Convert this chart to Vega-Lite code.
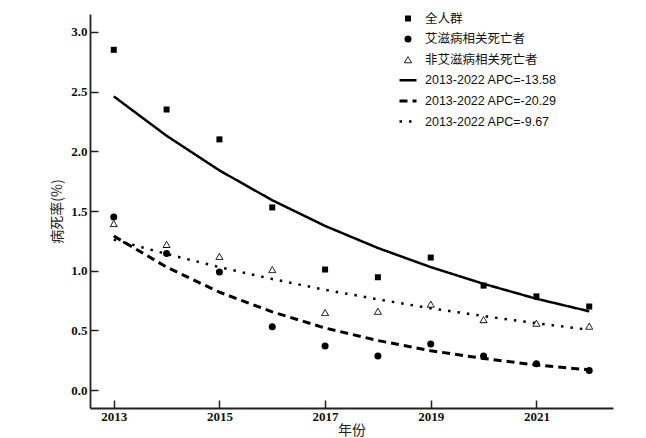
{
  "$schema": "https://vega.github.io/schema/vega-lite/v6.json",
  "width": 523,
  "height": 394,
  "autosize": {"type": "none"},
  "padding": {"left": 90, "top": 14, "right": 33, "bottom": 30},
  "background": "white",
  "config": {
    "view": {"stroke": null},
    "axis": {
      "grid": false,
      "domainColor": "#222",
      "domainWidth": 1.8,
      "tickColor": "#222",
      "tickWidth": 1.5,
      "tickSize": -8,
      "labelFont": "Liberation Serif",
      "labelFontWeight": "bold",
      "labelFontSize": 13,
      "labelColor": "#111",
      "titleFont": "Noto Sans CJK SC",
      "titleFontWeight": "normal",
      "titleFontSize": 14,
      "titleColor": "#222"
    },
    "legend": {
      "title": null,
      "orient": "none",
      "legendX": 308,
      "legendY": -4,
      "padding": 0,
      "labelOffset": 7,
      "rowPadding": 3.6,
      "clipHeight": 17,
      "labelFont": "Liberation Sans, Noto Sans CJK SC",
      "labelFontSize": 12.5,
      "labelColor": "#111",
      "symbolStrokeColor": "black"
    }
  },
  "datasets": {
    "pts": [
      {"year": 2013, "rate": 2.85, "series": "全人群"},
      {"year": 2014, "rate": 2.35, "series": "全人群"},
      {"year": 2015, "rate": 2.10, "series": "全人群"},
      {"year": 2016, "rate": 1.53, "series": "全人群"},
      {"year": 2017, "rate": 1.01, "series": "全人群"},
      {"year": 2018, "rate": 0.945, "series": "全人群"},
      {"year": 2019, "rate": 1.11, "series": "全人群"},
      {"year": 2020, "rate": 0.875, "series": "全人群"},
      {"year": 2021, "rate": 0.785, "series": "全人群"},
      {"year": 2022, "rate": 0.70, "series": "全人群"},
      {"year": 2013, "rate": 1.45, "series": "艾滋病相关死亡者"},
      {"year": 2014, "rate": 1.145, "series": "艾滋病相关死亡者"},
      {"year": 2015, "rate": 0.99, "series": "艾滋病相关死亡者"},
      {"year": 2016, "rate": 0.53, "series": "艾滋病相关死亡者"},
      {"year": 2017, "rate": 0.37, "series": "艾滋病相关死亡者"},
      {"year": 2018, "rate": 0.285, "series": "艾滋病相关死亡者"},
      {"year": 2019, "rate": 0.385, "series": "艾滋病相关死亡者"},
      {"year": 2020, "rate": 0.285, "series": "艾滋病相关死亡者"},
      {"year": 2021, "rate": 0.22, "series": "艾滋病相关死亡者"},
      {"year": 2022, "rate": 0.165, "series": "艾滋病相关死亡者"},
      {"year": 2013, "rate": 1.395, "series": "非艾滋病相关死亡者"},
      {"year": 2014, "rate": 1.22, "series": "非艾滋病相关死亡者"},
      {"year": 2015, "rate": 1.12, "series": "非艾滋病相关死亡者"},
      {"year": 2016, "rate": 1.01, "series": "非艾滋病相关死亡者"},
      {"year": 2017, "rate": 0.65, "series": "非艾滋病相关死亡者"},
      {"year": 2018, "rate": 0.66, "series": "非艾滋病相关死亡者"},
      {"year": 2019, "rate": 0.72, "series": "非艾滋病相关死亡者"},
      {"year": 2020, "rate": 0.59, "series": "非艾滋病相关死亡者"},
      {"year": 2021, "rate": 0.56, "series": "非艾滋病相关死亡者"},
      {"year": 2022, "rate": 0.535, "series": "非艾滋病相关死亡者"}
    ],
    "fit": [
      {"year": 2013, "rate": 2.46, "series": "2013-2022 APC=-13.58"},
      {"year": 2014, "rate": 2.13, "series": "2013-2022 APC=-13.58"},
      {"year": 2015, "rate": 1.84, "series": "2013-2022 APC=-13.58"},
      {"year": 2016, "rate": 1.59, "series": "2013-2022 APC=-13.58"},
      {"year": 2017, "rate": 1.375, "series": "2013-2022 APC=-13.58"},
      {"year": 2018, "rate": 1.19, "series": "2013-2022 APC=-13.58"},
      {"year": 2019, "rate": 1.03, "series": "2013-2022 APC=-13.58"},
      {"year": 2020, "rate": 0.89, "series": "2013-2022 APC=-13.58"},
      {"year": 2021, "rate": 0.765, "series": "2013-2022 APC=-13.58"},
      {"year": 2022, "rate": 0.66, "series": "2013-2022 APC=-13.58"},
      {"year": 2013, "rate": 1.29, "series": "2013-2022 APC=-20.29"},
      {"year": 2014, "rate": 1.03, "series": "2013-2022 APC=-20.29"},
      {"year": 2015, "rate": 0.82, "series": "2013-2022 APC=-20.29"},
      {"year": 2016, "rate": 0.655, "series": "2013-2022 APC=-20.29"},
      {"year": 2017, "rate": 0.52, "series": "2013-2022 APC=-20.29"},
      {"year": 2018, "rate": 0.415, "series": "2013-2022 APC=-20.29"},
      {"year": 2019, "rate": 0.33, "series": "2013-2022 APC=-20.29"},
      {"year": 2020, "rate": 0.265, "series": "2013-2022 APC=-20.29"},
      {"year": 2021, "rate": 0.21, "series": "2013-2022 APC=-20.29"},
      {"year": 2022, "rate": 0.17, "series": "2013-2022 APC=-20.29"},
      {"year": 2013, "rate": 1.26, "series": "2013-2022 APC=-9.67"},
      {"year": 2014, "rate": 1.14, "series": "2013-2022 APC=-9.67"},
      {"year": 2015, "rate": 1.03, "series": "2013-2022 APC=-9.67"},
      {"year": 2016, "rate": 0.93, "series": "2013-2022 APC=-9.67"},
      {"year": 2017, "rate": 0.84, "series": "2013-2022 APC=-9.67"},
      {"year": 2018, "rate": 0.76, "series": "2013-2022 APC=-9.67"},
      {"year": 2019, "rate": 0.685, "series": "2013-2022 APC=-9.67"},
      {"year": 2020, "rate": 0.62, "series": "2013-2022 APC=-9.67"},
      {"year": 2021, "rate": 0.56, "series": "2013-2022 APC=-9.67"},
      {"year": 2022, "rate": 0.505, "series": "2013-2022 APC=-9.67"}
    ]
  },
  "encoding": {
    "x": {
      "field": "year", "type": "quantitative",
      "scale": {"domain": [2012.55, 2022.45], "nice": false, "zero": false},
      "axis": {"values": [2013, 2015, 2017, 2019, 2021], "format": "d", "title": "年份", "labelPadding": 10, "titlePadding": 0}
    },
    "y": {
      "field": "rate", "type": "quantitative",
      "scale": {"domain": [-0.15, 3.15], "nice": false, "zero": false},
      "axis": {"values": [0, 0.5, 1, 1.5, 2, 2.5, 3], "format": ".1f", "title": "病死率(%)", "labelPadding": 11, "titlePadding": 6}
    },
    "strokeDash": {
      "field": "series", "type": "nominal",
      "scale": {
        "domain": ["全人群", "艾滋病相关死亡者", "非艾滋病相关死亡者", "2013-2022 APC=-13.58", "2013-2022 APC=-20.29", "2013-2022 APC=-9.67"],
        "range": [[1, 0], [1, 0], [1, 0], [1, 0], [8, 5], [2.5, 7]]
      },
      "legend": {
        "encode": {
          "symbols": {"update": {
            "stroke": {"value": "black"},
            "strokeWidth": {"scale": "strokeWidth", "field": "value"},
            "strokeDash": {"scale": "strokeDash", "field": "value"},
            "opacity": {"value": 1},
            "strokeOpacity": {"value": 1}
          }}
        }
      }
    },
    "strokeWidth": {
      "field": "series", "type": "nominal",
      "scale": {
        "type": "ordinal",
        "domain": ["全人群", "艾滋病相关死亡者", "非艾滋病相关死亡者", "2013-2022 APC=-13.58", "2013-2022 APC=-20.29", "2013-2022 APC=-9.67"],
        "range": [0, 0, 1, 2.5, 3, 2.5]
      },
      "legend": {
        "encode": {
          "symbols": {"update": {
            "stroke": {"value": "black"},
            "strokeWidth": {"scale": "strokeWidth", "field": "value"},
            "strokeDash": {"scale": "strokeDash", "field": "value"},
            "opacity": {"value": 1},
            "strokeOpacity": {"value": 1}
          }}
        }
      }
    }
  },
  "layer": [
    {
      "data": {"name": "fit"},
      "mark": {"type": "line", "color": "black"}
    },
    {
      "data": {"name": "pts"},
      "mark": {"type": "point", "stroke": "black", "opacity": 1},
      "encoding": {
        "shape": {
          "field": "series", "type": "nominal",
          "scale": {
            "domain": ["全人群", "艾滋病相关死亡者", "非艾滋病相关死亡者", "2013-2022 APC=-13.58", "2013-2022 APC=-20.29", "2013-2022 APC=-9.67"],
            "range": ["square", "circle", "triangle-up", "M-1,0H1", "M-1,0H1", "M-1,0H1"]
          },
          "legend": {
            "encode": {
              "symbols": {"update": {
                "stroke": {"value": "black"},
                "strokeWidth": {"scale": "strokeWidth", "field": "value"},
                "strokeDash": {"scale": "strokeDash", "field": "value"},
                "opacity": {"value": 1},
                "strokeOpacity": {"value": 1}
              }}
            }
          }
        },
        "fill": {
          "field": "series", "type": "nominal",
          "scale": {
            "domain": ["全人群", "艾滋病相关死亡者", "非艾滋病相关死亡者", "2013-2022 APC=-13.58", "2013-2022 APC=-20.29", "2013-2022 APC=-9.67"],
            "range": ["black", "black", "white", "transparent", "transparent", "transparent"]
          },
          "legend": {
            "encode": {
              "symbols": {"update": {
                "stroke": {"value": "black"},
                "strokeWidth": {"scale": "strokeWidth", "field": "value"},
                "strokeDash": {"scale": "strokeDash", "field": "value"},
                "opacity": {"value": 1},
                "strokeOpacity": {"value": 1}
              }}
            }
          }
        },
        "size": {
          "field": "series", "type": "nominal",
          "scale": {
            "type": "ordinal",
            "domain": ["全人群", "艾滋病相关死亡者", "非艾滋病相关死亡者", "2013-2022 APC=-13.58", "2013-2022 APC=-20.29", "2013-2022 APC=-9.67"],
            "range": [36, 49, 50, 289, 289, 289]
          },
          "legend": {
            "encode": {
              "symbols": {"update": {
                "stroke": {"value": "black"},
                "strokeWidth": {"scale": "strokeWidth", "field": "value"},
                "strokeDash": {"scale": "strokeDash", "field": "value"},
                "opacity": {"value": 1},
                "strokeOpacity": {"value": 1}
              }}
            }
          }
        }
      }
    }
  ]
}
